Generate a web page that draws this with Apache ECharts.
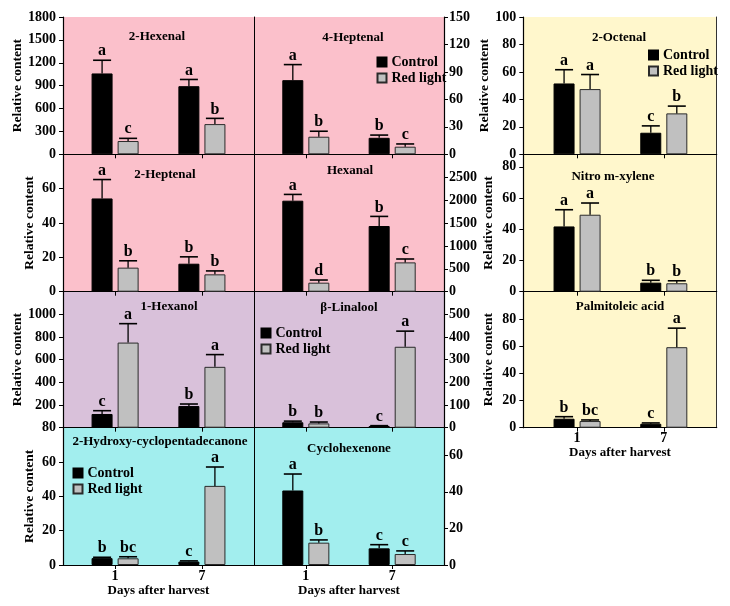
<!DOCTYPE html>
<html><head><meta charset="utf-8">
<script src="https://cdn.jsdelivr.net/npm/echarts@6/dist/echarts.min.js"></script>
<style>html,body{margin:0;padding:0;background:#fff}#c{width:730px;height:606px}</style>
</head><body><div id="c"></div>
<script>
// ---------- DATA ----------
const days = ['1', '7'];
const dayPos = [1, 2];
const groupNames = ['Control', 'Red light'];
const compounds = ['2-Hexenal', '4-Heptenal', '2-Heptenal', 'Hexanal', '1-Hexanol', 'β-Linalool',
  '2-Hydroxy-cyclopentadecanone', 'Cyclohexenone', '2-Octenal', 'Nitro m-xylene', 'Palmitoleic acid'];
const controlMeans = [[1060, 893], [81, 18], [54.3, 16.3], [1987, 1434], [121, 191], [24, 7.5],
  [4, 2], [40.7, 9.1], [51.6, 15.7], [41.8, 5.8], [6.6, 2.9]];
const controlErrors = [[173, 88], [17, 3], [11, 4], [137, 210], [29, 18], [5, 1.5],
  [0.5, 0.4], [9, 2], [10, 5], [10.7, 1.5], [1.5, 0.6]];
const redMeans = [[174, 396], [19.2, 8.3], [14, 10.1], [197, 640], [751, 537], [19, 357],
  [3.9, 46.1], [12.2, 6], [47.5, 29.8], [49.3, 5.4], [4.9, 59.2]];
const redErrors = [[35, 75], [6, 3], [4, 2], [58, 74], [167, 108], [6, 69],
  [0.9, 11], [1.5, 1.7], [10.6, 5.3], [7.5, 1.6], [0.8, 14]];
const controlLetters = [['a', 'a'], ['a', 'b'], ['a', 'b'], ['a', 'b'], ['c', 'b'], ['b', 'c'],
  ['b', 'c'], ['a', 'c'], ['a', 'c'], ['a', 'b'], ['b', 'c']];
const redLetters = [['c', 'b'], ['b', 'c'], ['b', 'b'], ['d', 'c'], ['a', 'a'], ['b', 'a'],
  ['bc', 'a'], ['b', 'c'], ['a', 'b'], ['a', 'b'], ['bc', 'a']];
const yMax = [1800, 150, 80, 3000, 1200, 600, 80, 75, 100, 88, 100];
const yStep = [300, 30, 20, 500, 200, 100, 20, 20, 20, 20, 20];

// ---------- LAYOUT ----------
const FONT = '"Liberation Serif", "Times New Roman", serif';
const colX = [[63, 254], [254, 444], [523.3, 716.7]];
const colXRange = [[0.4, 2.6], [0.4, 2.6], [0.38, 2.61]];
const rowY = [[17, 154.3], [154.3, 291.7], [291.7, 427.7], [427.7, 565]];
const panelCell = [[0, 0], [1, 0], [0, 1], [1, 1], [0, 2], [1, 2], [0, 3], [1, 3], [2, 0], [2, 1], [2, 2]];
const bgColor = ['#FBC0CB', '#FBC0CB', '#FBC0CB', '#FBC0CB', '#D9C1DA', '#D9C1DA', '#A2EEEE', '#A2EEEE',
  '#FFF7CC', '#FFF7CC', '#FFF7CC'];
const bottomPanels = [6, 7, 10];
const showTopLabel = [true, true, false, false, false, false, true, false, true, false, false];
const titlePos = [[157, 37], [353, 38], [165, 175], [350, 171], [169, 307], [349, 308], [160, 442],
  [349, 449], [619, 38], [613, 177], [620, 307]];
const nameGapY = [38, 0, 26, 0, 38, 0, 26, 0, 28, 28, 28];
const legendPos = [[1, 376.5, 54], [5, 260.5, 325], [6, 72.5, 465], [8, 648, 47]];
const BAR_W = 21, BAR_OFF = 13;

const grids = [], xAxes = [], yAxes = [], series = [], graphics = [], legends = [];
const textBase = { fontFamily: FONT, fontWeight: 'bold', color: '#000' };

compounds.forEach((name, i) => {
  const [c, r] = panelCell[i];
  const [x0, x1] = colX[c], [y0, y1] = rowY[r];
  grids.push({ left: x0, top: y0, width: x1 - x0, height: y1 - y0, show: true,
    backgroundColor: bgColor[i], borderWidth: 0, containLabel: false, outerBoundsMode: 'none' });
  const isBottom = bottomPanels.includes(i);
  xAxes.push({
    gridIndex: i, type: 'value', min: colXRange[c][0], max: colXRange[c][1],
    axisLine: { show: true, onZero: false, lineStyle: { color: '#000', width: 1.2 } },
    axisTick: { show: true, customValues: dayPos, length: 4, lineStyle: { color: '#000' } },
    axisLabel: { show: isBottom, customValues: dayPos, margin: 4,
      formatter: v => days[dayPos.indexOf(v)], ...textBase, fontSize: 14 },
    splitLine: { show: false },
    name: isBottom ? 'Days after harvest' : '', nameLocation: 'middle', nameGap: c === 2 ? 18 : 19,
    nameTextStyle: { ...textBase, fontSize: 13 }
  });
  const mainY = yAxes.length;
  yAxes.push({
    gridIndex: i, type: 'value', position: c === 1 ? 'right' : 'left', min: 0, max: yMax[i], interval: yStep[i],
    axisLine: { show: true, onZero: false, lineStyle: { color: '#000', width: 1.2 } },
    axisTick: { show: true, length: 4, lineStyle: { color: '#000' } },
    axisLabel: { margin: c === 1 ? 5 : 7, ...textBase, fontSize: 14, formatter: v => String(v),
      showMaxLabel: showTopLabel[i], showMinLabel: i !== 4 },
    splitLine: { show: false },
    name: c === 1 ? '' : 'Relative content', nameLocation: 'middle', nameGap: nameGapY[i],
    nameTextStyle: { ...textBase, fontSize: 13.5 }
  });
  if (c !== 1) {
    yAxes.push({
      gridIndex: i, type: 'value', position: 'right', min: 0, max: 1,
      axisLine: { show: true, onZero: false, lineStyle: { color: c === 0 ? '#000' : '#333', width: 1 } },
      axisTick: { show: false }, axisLabel: { show: false }, splitLine: { show: false }
    });
  }
  const groups = [
    { name: groupNames[0], means: controlMeans[i], errs: controlErrors[i], letters: controlLetters[i],
      style: { color: '#000', borderColor: '#000', borderWidth: 1 }, off: -BAR_OFF },
    { name: groupNames[1], means: redMeans[i], errs: redErrors[i], letters: redLetters[i],
      style: { color: '#C0C0C0', borderColor: '#2a2a2a', borderWidth: 1 }, off: BAR_OFF }
  ];
  groups.forEach(g => {
    series.push({
      type: 'bar', name: g.name, xAxisIndex: i, yAxisIndex: mainY, barWidth: BAR_W, barGap: '24%',
      itemStyle: g.style, data: dayPos.map((x, k) => [x, g.means[k]]), silent: true, z: 2
    });
  });
  groups.forEach(g => {
    series.push({
      type: 'custom', name: g.name + ' error', xAxisIndex: i, yAxisIndex: mainY, z: 5, silent: true,
      data: dayPos.map((x, k) => [x, g.means[k], g.errs[k]]),
      renderItem: (params, api) => {
        const x = api.value(0), v = api.value(1), e = api.value(2);
        const b = api.coord([x, v]), t = api.coord([x, v + e]);
        const cx = b[0] + g.off;
        return { type: 'group', children: [
          { type: 'line', shape: { x1: cx, y1: b[1], x2: cx, y2: t[1] }, style: { stroke: '#000', lineWidth: 1.3 } },
          { type: 'line', shape: { x1: cx - 9, y1: t[1], x2: cx + 9, y2: t[1] }, style: { stroke: '#000', lineWidth: 1.6 } },
          { type: 'text', style: { text: g.letters[params.dataIndex], x: cx, y: t[1] - 1, align: 'center',
            verticalAlign: 'bottom', font: 'bold 16px ' + FONT, fill: '#000' } }
        ] };
      }
    });
  });
  graphics.push({ type: 'text', x: titlePos[i][0], y: titlePos[i][1], z: 10,
    style: { text: name, align: 'center', verticalAlign: 'middle', font: 'bold 13px ' + FONT, fill: '#000' } });
});

legendPos.forEach(([i, lx, ly]) => {
  legends.push({ data: groupNames, orient: 'vertical', left: lx, top: ly, padding: 0, itemGap: 0,
    itemWidth: 9, itemHeight: 9, icon: 'rect', selectedMode: false,
    textStyle: { ...textBase, fontSize: 14, lineHeight: 16 } });
});

const chart = echarts.init(document.getElementById('c'), null, { renderer: 'canvas' });
chart.setOption({
  animation: false, backgroundColor: '#fff',
  grid: grids, xAxis: xAxes, yAxis: yAxes, series: series, legend: legends, graphic: graphics
});
</script>
</body></html>
